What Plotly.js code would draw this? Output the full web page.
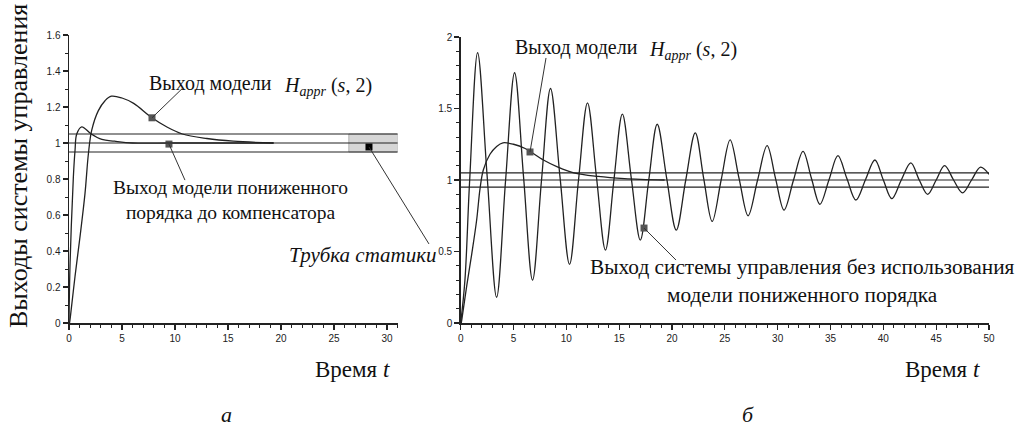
<!DOCTYPE html>
<html>
<head>
<meta charset="utf-8">
<script src="https://cdn.plot.ly/plotly-3.0.1.min.js"></script>
<style>
  html, body { margin: 0; padding: 0; background: #fff; }
  #chart { width: 1019px; height: 434px; }
</style>
</head>
<body>
<div id="chart"></div>
<script>
// ---- Data ----
// Response of model H_appr(s,2) (same curve in both panels)
const happrT = [0.05, 0.12, 0.57, 1.04, 1.51, 1.83, 2.14, 2.77, 3.4, 4.0, 5.0, 6.1, 7.83, 9.2, 10.7, 13.0, 15.5, 19.3];
const happrY = [0.0, 0.03, 0.26, 0.48, 0.72, 0.94, 1.07, 1.18, 1.235, 1.26, 1.25, 1.22, 1.14, 1.09, 1.05, 1.025, 1.01, 1.0];

// Response of the reduced-order model before compensator (left panel)
const fastT = [0.0, 0.1, 0.41, 0.57, 0.73, 1.2, 2.1, 3.1, 4.3, 6.0, 10.0, 19.3];
const fastY = [0.0, 0.33, 0.81, 0.96, 1.05, 1.09, 1.05, 1.02, 1.01, 1.0, 1.0, 1.0];

// Control system output without reduced-order model (right panel)
const oscT = [0, 0.4, 0.85, 1.6, 2.5, 3.4, 4.25, 5.1, 5.95, 6.8, 7.65, 8.5, 9.4, 10.3, 11.15, 12.0,
              12.85, 13.7, 14.5, 15.3, 16.15, 17.0, 17.8, 18.6, 19.5, 20.4, 21.3, 22.2, 23.0, 23.8,
              24.65, 25.5, 26.35, 27.2, 28.1, 29.0, 29.8, 30.6, 31.5, 32.4, 33.2, 34.0, 34.85, 35.7,
              36.55, 37.4, 38.3, 39.2, 40.0, 40.8, 41.7, 42.6, 43.4, 44.2, 45.0, 45.8, 46.65, 47.5,
              48.35, 49.2, 50.0];
const oscY = [0, 0.3, 1.0, 1.89, 1.03, 0.18, 1.0, 1.75, 1.02, 0.30, 1.0, 1.64, 1.02, 0.41, 1.0, 1.54,
              1.02, 0.51, 1.0, 1.46, 1.01, 0.58, 1.0, 1.39, 1.01, 0.65, 1.0, 1.33, 1.01, 0.71,
              1.0, 1.28, 1.01, 0.75, 1.0, 1.24, 1.01, 0.79, 1.0, 1.20, 1.01, 0.83, 1.0, 1.17,
              1.01, 0.86, 1.0, 1.14, 1.0, 0.87, 1.0, 1.12, 1.0, 0.90, 1.0, 1.10, 1.0, 0.91,
              1.0, 1.09, 1.04];

// Static tube levels
const tubeLevels = [0.95, 1.0, 1.05];
const tubeBoxT = [26.4, 31.0];

// Label markers
const leftMarkT = [7.83, 9.43];
const leftMarkY = [1.14, 0.994];
const tubeMarkT = [28.3];
const tubeMarkY = [0.978];
const rightMarkT = [6.56, 17.35];
const rightMarkY = [1.196, 0.664];

// Tick settings
const leftXTicks = {dtick: 5, minor: 1, range: [0, 31]};
const leftYTicks = {dtick: 0.2, minor: 0.1, range: [0, 1.6]};
const rightXTicks = {dtick: 5, minor: 1, range: [0, 50]};
const rightYTicks = {dtick: 0.5, minor: 0.1, range: [0, 2]};

// Texts
const yTitle = 'Выходы системы управления';
const xTitle = 'Время <i>t</i>';
const labModel = 'Выход модели';
const labHappr = '<i>H</i><sub><i>appr</i></sub> (<i>s</i>, 2)';
const labReduced = 'Выход модели пониженного<br>порядка до компенсатора';
const labTube = '<i>Трубка статики</i>';
const labNoModel = 'Выход системы управления без использования<br>модели пониженного порядка';
const capA = '<i>а</i>';
const capB = '<i>б</i>';

// ---- Layout geometry (pixels) ----
const W = 1019, H = 434;
const px = v => v / W;
const py = v => 1 - v / H;
const L = {x0: 69, x1: 397.6, yb: 323, yt: 35};   // left plot area
const R = {x0: 460.7, x1: 989, yb: 323, yt: 37};  // right plot area

// data -> pixel helpers (same mapping as the axes)
function toPix(area, ticksX, ticksY, t, v) {
  const xp = area.x0 + (t - ticksX.range[0]) / (ticksX.range[1] - ticksX.range[0]) * (area.x1 - area.x0);
  const yp = area.yb - (v - ticksY.range[0]) / (ticksY.range[1] - ticksY.range[0]) * (area.yb - area.yt);
  return [xp, yp];
}

const lineCol = '#222';
const serif = '"Liberation Serif", "Times New Roman", serif';
const sans = '"Liberation Sans", Arial, sans-serif';

function curve(x, y, xa, ya) {
  return {x: x, y: y, xaxis: xa, yaxis: ya, type: 'scatter', mode: 'lines',
          line: {color: lineCol, width: 1.3, shape: 'spline', smoothing: 1},
          hoverinfo: 'skip', showlegend: false};
}
function marks(x, y, xa, ya, col, sz) {
  return {x: x, y: y, xaxis: xa, yaxis: ya, type: 'scatter', mode: 'markers',
          marker: {symbol: 'square', size: sz, color: col, line: {width: 0}},
          hoverinfo: 'skip', showlegend: false, cliponaxis: false};
}

const data = [
  curve(happrT, happrY, 'x', 'y'),
  curve(fastT, fastY, 'x', 'y'),
  marks(leftMarkT, leftMarkY, 'x', 'y', '#555', 7),
  marks(tubeMarkT, tubeMarkY, 'x', 'y', '#000', 7),
  curve(oscT, oscY, 'x2', 'y2'),
  curve(happrT, happrY, 'x2', 'y2'),
  marks(rightMarkT, rightMarkY, 'x2', 'y2', '#555', 7)
];

function axis(t, domain, anchor) {
  return {domain: domain, range: t.range, anchor: anchor, tick0: 0, dtick: t.dtick,
          ticks: 'outside', ticklen: 5, tickwidth: 1.2, tickcolor: lineCol,
          showline: true, linecolor: lineCol, linewidth: 1.5, showgrid: false, zeroline: false,
          minor: {dtick: t.minor, tick0: 0, ticks: 'outside', ticklen: 3, tickwidth: 1, tickcolor: lineCol, showgrid: false},
          tickfont: {family: sans, size: 10, color: '#222'}, fixedrange: true};
}

const shapes = [];
// tube box (left)
shapes.push({type: 'rect', xref: 'x', yref: 'y', x0: tubeBoxT[0], x1: tubeBoxT[1],
             y0: tubeLevels[0], y1: tubeLevels[2], fillcolor: '#d6d6d6',
             line: {color: '#b0b0b0', width: 1}, layer: 'below'});
tubeLevels.forEach(v => {
  shapes.push({type: 'line', xref: 'x domain', yref: 'y', x0: 0, x1: 1, y0: v, y1: v,
               line: {color: lineCol, width: 1.2}});
  shapes.push({type: 'line', xref: 'x2 domain', yref: 'y2', x0: 0, x1: 1, y0: v, y1: v,
               line: {color: lineCol, width: 1.2}});
});

// leader lines from label markers (start at the marker, pixel offset to the label)
function leader(area, tx, ty, t, v, dx, dy) {
  const p = toPix(area, tx, ty, t, v);
  return {type: 'line', xref: 'paper', yref: 'paper',
          x0: px(p[0]), y0: py(p[1]), x1: px(p[0] + dx), y1: py(p[1] + dy),
          line: {color: '#333', width: 1}};
}
shapes.push(leader(L, leftXTicks, leftYTicks, leftMarkT[0], leftMarkY[0], 30, -29));
shapes.push(leader(L, leftXTicks, leftYTicks, leftMarkT[1], leftMarkY[1], 16, 36));
shapes.push(leader(L, leftXTicks, leftYTicks, tubeMarkT[0], tubeMarkY[0], 60, 97));
shapes.push(leader(R, rightXTicks, rightYTicks, rightMarkT[0], rightMarkY[0], 16, -94));
shapes.push(leader(R, rightXTicks, rightYTicks, rightMarkT[1], rightMarkY[1], 32, 32));

function txt(text, x, y, xanchor, size, extra) {
  return Object.assign({text: text, x: x, y: y, xref: 'paper', yref: 'paper',
          xanchor: xanchor, yanchor: 'middle', showarrow: false,
          font: {family: serif, size: size, color: '#111'}}, extra || {});
}

const annotations = [
  txt(yTitle, px(18), py(166), 'center', 26, {textangle: -90}),
  txt(xTitle, px(392), py(369), 'right', 23),
  txt(xTitle, px(982), py(369), 'right', 23),
  txt(capA, px(226), py(414), 'center', 22),
  txt(capB, px(748), py(414), 'center', 22),
  txt(labModel, px(147), py(83), 'left', 20),
  txt(labHappr, px(282), py(86), 'left', 20),
  txt(labReduced, px(230), py(200), 'center', 19.5),
  txt(labTube, px(287), py(255), 'left', 21),
  txt(labModel, px(513), py(48), 'left', 20),
  txt(labHappr, px(647), py(51), 'left', 20),
  txt(labNoModel, px(802), py(281), 'center', 21.3)
];

const layout = {
  width: W, height: H,
  margin: {l: 0, r: 0, t: 0, b: 0, pad: 0},
  paper_bgcolor: '#fff', plot_bgcolor: 'rgba(0,0,0,0)',
  showlegend: false,
  xaxis: axis(leftXTicks, [px(L.x0), px(L.x1)], 'y'),
  yaxis: axis(leftYTicks, [py(L.yb), py(L.yt)], 'x'),
  xaxis2: axis(rightXTicks, [px(R.x0), px(R.x1)], 'y2'),
  yaxis2: axis(rightYTicks, [py(R.yb), py(R.yt)], 'x2'),
  shapes: shapes,
  annotations: annotations
};

Plotly.newPlot('chart', data, layout, {staticPlot: true, displayModeBar: false});
</script>
</body>
</html>
